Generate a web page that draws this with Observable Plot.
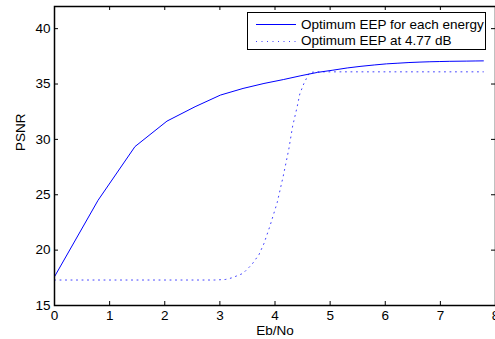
<!DOCTYPE html>
<html>
<head>
<meta charset="utf-8">
<script src="https://cdn.jsdelivr.net/npm/d3@7"></script>
<script src="https://cdn.jsdelivr.net/npm/@observablehq/plot@0.6"></script>
<style>
  body { margin: 0; background: white; }
  #wrap { position: relative; width: 495px; height: 339px; overflow: hidden; font-family: "Liberation Sans", Arial, Helvetica, sans-serif; }
  #legend { position: absolute; left: 247px; top: 12px; width: 237px; height: 36px; border: 1px solid black; background: white; box-sizing: content-box; }
  .row { position: absolute; left: 0; height: 16px; display: flex; align-items: center; font-size: 13.5px; color: black; white-space: nowrap; }
  .row svg { margin-left: 8px; margin-right: 5px; }
</style>
</head>
<body>
<div id="wrap"></div>
<script>
// ---- data ----
const seriesNames = ["Optimum EEP for each energy", "Optimum EEP at 4.77 dB"];
const solidX = [0, 0.79, 1.46, 2.04, 2.55, 3.01, 3.42, 3.80, 4.15, 4.47, 4.77, 5.05, 5.31, 5.56, 5.80, 6.02, 6.23, 6.43, 6.63, 6.81, 6.99, 7.16, 7.32, 7.48, 7.63, 7.78];
const solidY = [17.6, 24.5, 29.35, 31.65, 32.95, 34.0, 34.6, 35.05, 35.4, 35.75, 36.05, 36.25, 36.45, 36.6, 36.72, 36.82, 36.88, 36.94, 36.98, 37.01, 37.03, 37.05, 37.06, 37.07, 37.08, 37.09];
const dotX = [0, 2.9, 3.1, 3.22, 3.42, 3.58, 3.71, 3.80, 3.91, 4.04, 4.15, 4.25, 4.32, 4.40, 4.45, 4.52, 4.58, 4.63, 4.77, 7.78];
const dotY = [17.3, 17.3, 17.35, 17.5, 17.9, 18.7, 19.6, 20.6, 22.2, 24.3, 26.7, 29.1, 31.2, 32.9, 34.1, 35.0, 35.6, 36.05, 36.1, 36.1];
const xTicks = [0, 1, 2, 3, 4, 5, 6, 7, 8];
const yTicks = [15, 20, 25, 30, 35, 40];
const xLabel = "Eb/No";
const yLabel = "PSNR";

const solid = solidX.map((x, i) => ({x, y: solidY[i]}));
const dotted = dotX.map((x, i) => ({x, y: dotY[i]}));

const W = 495, H = 339, mL = 54, mR = 0, mT = 6, mB = 34;
const fw = W - mL - mR, fh = H - mT - mB;
const tick = 4;

const chart = Plot.plot({
  width: W, height: H,
  marginLeft: mL, marginRight: mR, marginTop: mT, marginBottom: mB,
  style: {fontSize: "13.5px", fontFamily: '"Liberation Sans", Arial, Helvetica, sans-serif', color: "black", background: "white"},
  x: {domain: [0, 8]},
  y: {domain: [15, 42]},
  marks: [
    Plot.line(dotted, {x: "x", y: "y", stroke: "blue", strokeWidth: 1, strokeDasharray: "1,4.5", strokeOpacity: 0.75}),
    Plot.line(solid, {x: "x", y: "y", stroke: "blue", strokeWidth: 1}),
    Plot.ruleX(xTicks, {x: d => d, insetTop: fh - tick, stroke: "black"}),
    Plot.ruleX(xTicks, {x: d => d, insetBottom: fh - tick, stroke: "black"}),
    Plot.ruleY(yTicks, {y: d => d, insetRight: fw - tick, stroke: "black"}),
    Plot.ruleY(yTicks, {y: d => d, insetLeft: fw - tick, stroke: "black"}),
    Plot.axisX({ticks: xTicks, tickSize: 0, tickPadding: 5, tickFormat: d => String(d), label: null}),
    Plot.axisY({ticks: yTicks, tickSize: 0, tickPadding: 4, tickFormat: d => String(d), label: null}),
    Plot.frame({stroke: "black", strokeWidth: 1.5}),
    Plot.text([xLabel], {text: d => d, frameAnchor: "bottom", dy: 29, fill: "black"}),
    Plot.text([yLabel], {text: d => d, frameAnchor: "left", dx: -34, dy: -5, rotate: -90, fill: "black"})
  ]
});

const wrap = document.getElementById("wrap");
wrap.appendChild(chart);

// legend
const legend = document.createElement("div");
legend.id = "legend";
const dashes = [null, "1,4.5"];
const rowTops = [3, 19.5];
seriesNames.forEach((name, i) => {
  const row = document.createElement("div");
  row.className = "row";
  row.style.top = rowTops[i] + "px";
  const ns = "http://www.w3.org/2000/svg";
  const s = document.createElementNS(ns, "svg");
  s.setAttribute("width", 40); s.setAttribute("height", 16);
  const l = document.createElementNS(ns, "line");
  l.setAttribute("x1", 0); l.setAttribute("x2", 40);
  l.setAttribute("y1", 8.5); l.setAttribute("y2", 8.5);
  l.setAttribute("stroke", "blue");
  if (dashes[i]) { l.setAttribute("stroke-dasharray", dashes[i]); l.setAttribute("stroke-opacity", 0.75); }
  s.appendChild(l);
  row.appendChild(s);
  const t = document.createElement("span");
  t.textContent = name;
  row.appendChild(t);
  legend.appendChild(row);
});
wrap.appendChild(legend);
</script>
</body>
</html>
